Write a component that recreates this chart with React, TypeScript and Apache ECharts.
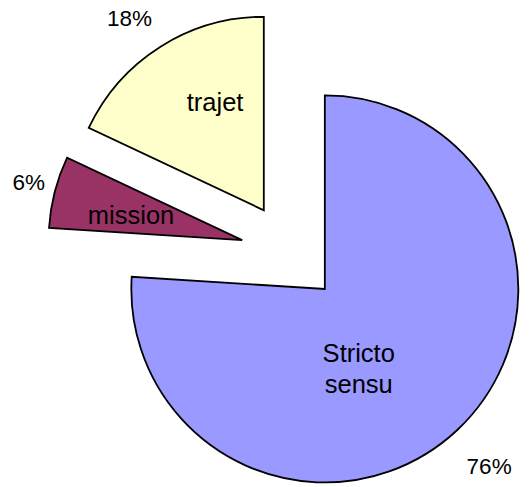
import React, { useEffect, useRef } from 'react';
import * as echarts from 'echarts';

// ---- data ----
const categories = ['Stricto sensu', 'mission', 'trajet'];
const sliceLabels = ['Stricto\nsensu', 'mission', 'trajet'];
const values = [76, 6, 18];
const colors = ['#9999FF', '#993366', '#FFFFCC'];

// ---- layout (pixels / fractions of radius) ----
const CX = 290.6;
const CY = 252.5;
const R = 193.5;
const EXPLODE = 50;
const NAME_LABEL = [
  { shift: 20.1, dist: 0.447 },
  { shift: -1.6, dist: 0.589 },
  { shift: 8.1, dist: 0.612 },
];
const PCT_LABEL = [
  { shift: 0.5, dist: 1.252 },
  { shift: 0.7, dist: 1.142 },
  { shift: -2.6, dist: 1.211 },
];
const FONT = '"Liberation Sans", Arial, Helvetica, sans-serif';

export default function App() {
  const ref = useRef<HTMLDivElement>(null);
  useEffect(() => {
    if (!ref.current) return;
    const chart = echarts.init(ref.current, null, { renderer: 'svg' });
    const total = values.reduce((a, b) => a + b, 0);
    chart.setOption({
      animation: false,
      backgroundColor: '#ffffff',
      series: [
        {
          type: 'custom',
          coordinateSystem: 'none',
          data: values.map((v, i) => ({ name: categories[i], value: v })),
          renderItem: (params: any, api: any) => {
            const i = params.dataIndex;
            const v = api.value(0);
            let cum = 0;
            for (let k = 0; k < i; k++) cum += values[k];
            const start = -Math.PI / 2 + (cum / total) * 2 * Math.PI;
            const end = start + (v / total) * 2 * Math.PI;
            const mid = (start + end) / 2;
            const cx = CX + EXPLODE * Math.cos(mid);
            const cy = CY + EXPLODE * Math.sin(mid);
            const na = mid + (NAME_LABEL[i].shift * Math.PI) / 180;
            const nr = NAME_LABEL[i].dist * R;
            const pa = mid + (PCT_LABEL[i].shift * Math.PI) / 180;
            const pr = PCT_LABEL[i].dist * R;
            const pct = Math.round((v / total) * 100) + '%';
            return {
              type: 'group',
              children: [
                {
                  type: 'sector',
                  shape: { cx, cy, r0: 0, r: R, startAngle: start, endAngle: end, clockwise: true },
                  style: { fill: colors[i], stroke: '#000000', lineWidth: 1.8, lineJoin: 'miter' },
                },
                {
                  type: 'text',
                  x: cx + nr * Math.cos(na),
                  y: cy + nr * Math.sin(na),
                  style: {
                    text: sliceLabels[i],
                    fill: '#000000',
                    fontSize: 25.5,
                    fontFamily: FONT,
                    align: 'center',
                    verticalAlign: 'middle',
                    lineHeight: 31.6,
                  },
                },
                {
                  type: 'text',
                  x: cx + pr * Math.cos(pa),
                  y: cy + pr * Math.sin(pa),
                  style: {
                    text: pct,
                    fill: '#000000',
                    fontSize: 22.5,
                    fontFamily: FONT,
                    align: 'center',
                    verticalAlign: 'middle',
                  },
                },
              ],
            };
          },
        },
      ],
    });
    return () => chart.dispose();
  }, []);
  return (
    <div
      ref={ref}
      style={{ position: 'absolute', left: 0, top: 0, width: 529, height: 487, overflow: 'hidden' }}
    />
  );
}
